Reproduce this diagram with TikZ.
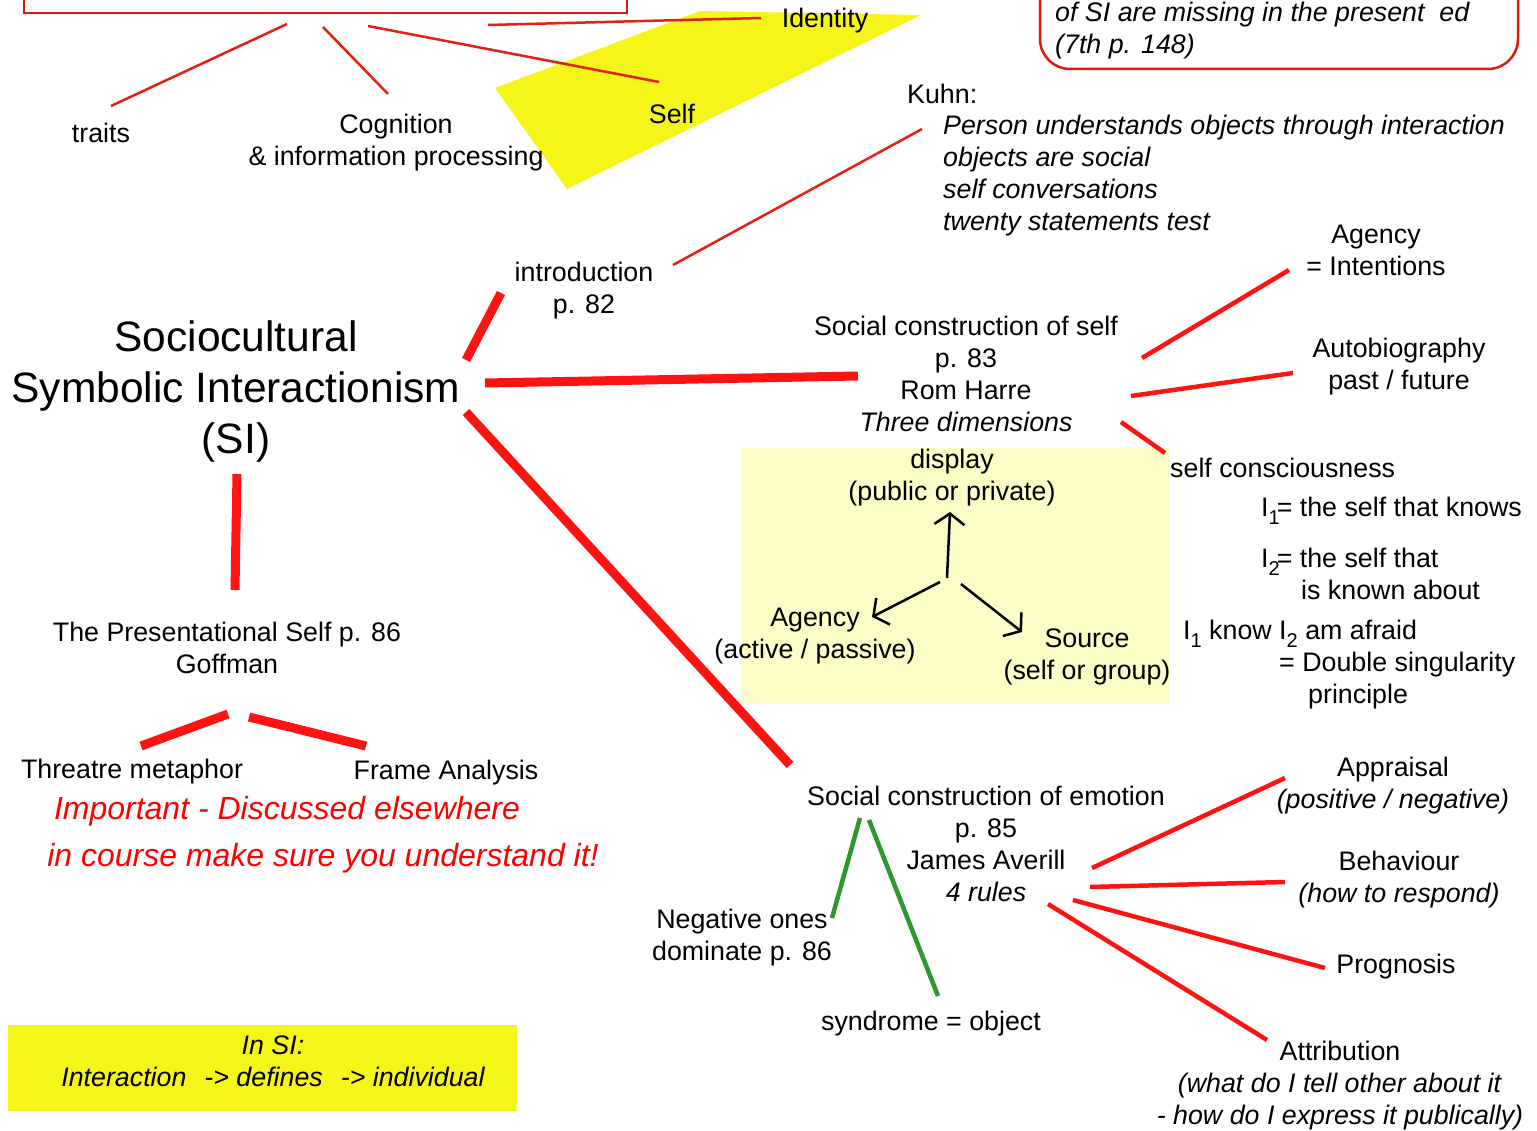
\documentclass[tikz,border=0pt]{standalone}
\usepackage{fontspec}
\setmainfont{Liberation Sans}
\usetikzlibrary{arrows.meta}
\definecolor{linkred}{RGB}{255,18,18}
\definecolor{thinred}{RGB}{226,32,20}
\definecolor{boxred}{RGB}{222,24,10}
\definecolor{hiyellow}{RGB}{245,245,25}
\definecolor{paleyellow}{RGB}{252,252,198}
\definecolor{stemgreen}{RGB}{48,150,48}
\newcommand\lowsub[1]{\raisebox{-8pt}{\fontsize{20}{20}\selectfont #1}}
\tikzset{
  txt/.style={inner sep=0pt, align=center, font=\fontsize{26.8}{32}\selectfont},
  txtl/.style={txt, align=left, anchor=west},
  itxt/.style={txt, font=\fontsize{26.8}{32}\selectfont\itshape},
  warn/.style={txt, font=\fontsize{32}{36}\selectfont\itshape, text=red},
  heavy/.style={draw=linkred, line width=9pt},
  medium/.style={draw=linkred, line width=4.5pt},
  fine/.style={draw=thinred, line width=2.5pt},
  greenlink/.style={draw=stemgreen, line width=4.5pt},
  pointer/.style={draw=black, line width=2.5pt, -{Straight Barb[length=11pt,width=30pt,line width=2.5pt]}},
}
\begin{document}
\begin{tikzpicture}[x=1pt,y=-1pt]
\useasboundingbox (0,0) rectangle (1537,1131);
\clip (0,0) rectangle (1537,1131);
\fill[white] (0,0) rectangle (1537,1131);

% highlight areas
\fill[hiyellow] (495,88) -- (700,11) -- (921,15) -- (567,189) -- cycle;
\fill[paleyellow] (742,448) rectangle (1169,704);
\fill[hiyellow] (8,1025) rectangle (517,1111);

% framed notes at the top
\draw[boxred, line width=2.5pt] (24,-30) -- (24,13) -- (627,13) -- (627,-30);
\draw[boxred, line width=2.5pt, rounded corners=30pt] (1040,-60) rectangle (1518,69);
\node[itxt, anchor=west] (missing) at (1055,15) {of SI are missing in the present \ ed};
\node[itxt, anchor=west] (seventh) at (1055,47) {(7th p. 148)};

% central topic
\node[txt, font=\fontsize{42.5}{51}\selectfont] (si) at (236,392) {Sociocultural\\Symbolic Interactionism\\(SI)};

% upper branch
\node[txt] (traits) at (101,133) {traits};
\node[txt] (cog) at (396,143) {Cognition\\\& information processing};
\node[txt] (selfn) at (672,114) {Self};
\node[txt] (ident) at (825,21) {Identity};
\node[txtl] (kuhn) at (907,94) {Kuhn:};
\node[itxt, align=left, anchor=west] (kuhnlist) at (943,176) {Person understands objects through interaction\\objects are social\\self conversations\\twenty statements test};
\node[txt] (intro) at (584,291) {introduction\\p. 82};

% social construction of self
\node[txt] (scself) at (966,374) {Social construction of self\\p. 83\\Rom Harre\\\textit{Three dimensions}};
\node[txt] (agency) at (1376,250) {Agency\\= Intentions};
\node[txt] (autobio) at (1399,367) {Autobiography\\past / future};
\node[txtl] (selfcon) at (1170,468) {self consciousness};
\node[txtl] (iknows) at (1261,511) {I\lowsub{1}\kern-3pt= the self that knows};
\node[txtl] (iknown) at (1261,574) {I\lowsub{2}\kern-3pt= the self that\\\hspace*{40pt}is known about};
\node[txtl] (iafraid) at (1183,665) {I\lowsub{1} know I\lowsub{2} am afraid\\\hspace*{96pt}= Double singularity\\\hspace*{125pt}principle};

% three dimensions
\node[txt] (display) at (952,478) {display\\(public or private)};
\node[txt] (dagency) at (815,636) {Agency\\(active / passive)};
\node[txt] (source) at (1087,657) {Source\\(self or group)};

% presentational self
\node[txt] (pres) at (227,648) {The Presentational Self p. 86\\Goffman};
\node[txt] (theatre) at (132,772) {Threatre metaphor};
\node[txt] (frame) at (446,773) {Frame Analysis};
\node[warn] (important) at (287,811) {Important - Discussed elsewhere};
\node[warn] (course) at (323,858) {in course make sure you understand it!};

% social construction of emotion
\node[txt] (scemo) at (986,844) {Social construction of emotion\\p. 85\\James Averill\\\textit{4 rules}};
\node[txt] (negative) at (742,938) {Negative ones\\dominate p. 86};
\node[txt] (syndrome) at (931,1024) {syndrome = object};
\node[txt] (appraisal) at (1393,786) {Appraisal\\\textit{(positive / negative)}};
\node[txt] (behaviour) at (1399,880) {Behaviour\\\textit{(how to respond)}};
\node[txt] (prognosis) at (1396,967) {Prognosis};
\node[txt] (attribution) at (1340,1086) {Attribution\\\textit{(what do I tell other about it}\\\textit{- how do I express it publically)}};

% summary box
\node[itxt] (insi) at (273,1061) {In SI:\\Interaction\hspace{18pt}-> defines\hspace{18pt}-> individual};

% connector end points
\coordinate (topA) at (287,24);   \coordinate (traitsE) at (111,106);
\coordinate (topB) at (323,27);   \coordinate (cogE) at (388,94);
\coordinate (topC) at (368,26);   \coordinate (selfE) at (659,82);
\coordinate (topD) at (488,25);   \coordinate (identE) at (761,18);
\coordinate (introS) at (673,265); \coordinate (kuhnE) at (922,129);
\coordinate (siA) at (466,360);   \coordinate (introE) at (501,293);
\coordinate (siB) at (485,383);   \coordinate (scselfE) at (858,376);
\coordinate (siC) at (466,412);   \coordinate (scemoE) at (790,765);
\coordinate (siD) at (237,474);   \coordinate (presE) at (235,590);
\coordinate (scA) at (1142,358);  \coordinate (agencyE) at (1289,270);
\coordinate (scB) at (1131,396);  \coordinate (autobioE) at (1293,373);
\coordinate (scC) at (1121,422);  \coordinate (selfconE) at (1165,453);
\coordinate (presA) at (228,714); \coordinate (theatreE) at (141,746);
\coordinate (presB) at (249,717); \coordinate (frameE) at (366,746);
\coordinate (emA) at (860,818);   \coordinate (negE) at (832,918);
\coordinate (emB) at (869,820);   \coordinate (synE) at (938,996);
\coordinate (emC) at (1092,868);  \coordinate (appE) at (1285,778);
\coordinate (emD) at (1090,887);  \coordinate (behE) at (1285,882);
\coordinate (emE) at (1073,900);  \coordinate (progE) at (1325,968);
\coordinate (emF) at (1048,904);  \coordinate (attrE) at (1267,1040);
\coordinate (hubUp) at (947,578);   \coordinate (displayE) at (950,512);
\coordinate (hubLeft) at (940,582); \coordinate (dagencyE) at (872,617);
\coordinate (hubRight) at (961,584);\coordinate (sourceE) at (1022,632);

% connectors
\draw[fine] (topA) -- (traitsE);
\draw[fine] (topB) -- (cogE);
\draw[fine] (topC) -- (selfE);
\draw[fine] (topD) -- (identE);
\draw[fine] (introS) -- (kuhnE);
\draw[heavy] (siA) -- (introE);
\draw[heavy] (siB) -- (scselfE);
\draw[heavy] (siC) -- (scemoE);
\draw[heavy] (siD) -- (presE);
\draw[medium] (scA) -- (agencyE);
\draw[medium] (scB) -- (autobioE);
\draw[medium] (scC) -- (selfconE);
\draw[heavy] (presA) -- (theatreE);
\draw[heavy] (presB) -- (frameE);
\draw[greenlink] (emA) -- (negE);
\draw[greenlink] (emB) -- (synE);
\draw[medium] (emC) -- (appE);
\draw[medium] (emD) -- (behE);
\draw[medium] (emE) -- (progE);
\draw[medium] (emF) -- (attrE);
\draw[pointer] (hubUp) -- (displayE);
\draw[pointer] (hubLeft) -- (dagencyE);
\draw[pointer] (hubRight) -- (sourceE);
\end{tikzpicture}
\end{document}
